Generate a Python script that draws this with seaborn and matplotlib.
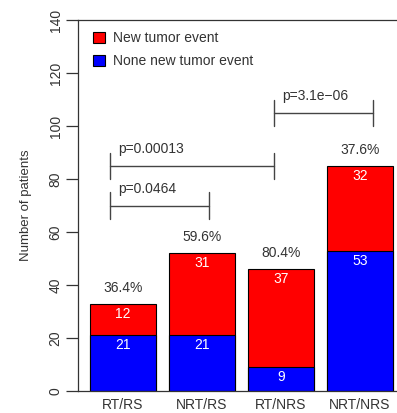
import matplotlib
matplotlib.use("Agg")
import matplotlib.pyplot as plt
from matplotlib.patches import Patch
import seaborn as sns
import pandas as pd

# Patient groups and counts
groups = ["RT/RS", "NRT/RS", "RT/NRS", "NRT/NRS"]
no_event = [21, 21, 9, 53]
new_event = [12, 31, 37, 32]
pct_labels = ["36.4%", "59.6%", "80.4%", "37.6%"]

# Pairwise comparisons: (left x, right x, bracket height, label)
comparisons = [
    (-0.167, 1.083, 70, "p=0.0464"),
    (-0.167, 1.917, 85, "p=0.00013"),
    (1.917, 3.167, 105, "p=3.1e\u221206"),
]
legend_labels = ["New tumor event", "None new tumor event"]

RED = "#ff0000"
BLUE = "#0000ff"
INK = "#333333"
FS = 10

sns.set_style("white")
plt.rcParams["font.family"] = ["Liberation Sans", "DejaVu Sans"]

totals = [a + b for a, b in zip(no_event, new_event)]
df = pd.DataFrame({"group": groups, "total": totals, "none": no_event,
                   "event": new_event})

W, H = 397, 413
fig = plt.figure(figsize=(W / 100, H / 100), dpi=100)
ax = fig.add_axes([78 / W, 1 - 391 / H, (W - 78) / W, (391 - 20) / H])

bar_kw = dict(width=0.835, edgecolor="black", linewidth=0.8,
              saturation=1, errorbar=None, ax=ax)
sns.barplot(data=df, x="group", y="total", color=RED, **bar_kw)
sns.barplot(data=df, x="group", y="none", color=BLUE, **bar_kw)

ax.set_xlim(-0.57, 3.468)
ax.set_ylim(0, 140)
ax.set_yticks(range(0, 141, 20))

for i in range(len(groups)):
    ax.text(i, totals[i] + 6, pct_labels[i], ha="center", va="center",
            fontsize=FS, color=INK)
    ax.text(i, totals[i] - 3.8, str(new_event[i]), ha="center", va="center",
            fontsize=FS, color="white")
    ax.text(i, no_event[i] - 3.8, str(no_event[i]), ha="center", va="center",
            fontsize=FS, color="white")

for x0, x1, y, lab in comparisons:
    ax.plot([x0, x1], [y, y], color="#444444", lw=1.0)
    for xe in (x0, x1):
        ax.plot([xe, xe], [y - 5, y + 5], color="#444444", lw=1.0)
    ax.text(x0 + 0.1, y + 6.3, lab, ha="left", va="center",
            fontsize=FS, color=INK)

handles = [Patch(facecolor=RED, edgecolor="black", linewidth=0.8),
           Patch(facecolor=BLUE, edgecolor="black", linewidth=0.8)]
ax.legend(handles, legend_labels, loc="upper left",
          bbox_to_anchor=(93 / W, 1 - 31.5 / H), bbox_transform=fig.transFigure,
          frameon=False, fontsize=FS, handlelength=0.86, handleheight=0.86,
          handletextpad=0.55, labelspacing=0.62, borderpad=0, borderaxespad=0,
          labelcolor=INK)

ax.spines["right"].set_visible(False)
for side in ("left", "top", "bottom"):
    ax.spines[side].set_color(INK)
    ax.spines[side].set_linewidth(0.9)

ax.tick_params(axis="y", length=8.6, width=0.9, color=INK, pad=2.5,
               labelsize=FS, labelcolor=INK, labelrotation=90, left=True)
for t in ax.get_yticklabels():
    t.set_va("center")
ax.tick_params(axis="x", length=0, pad=5, labelsize=FS, labelcolor=INK)

ax.set_xlabel("")
ax.set_ylabel("Number of patients", fontsize=9.5, color=INK)
ax.yaxis.set_label_coords((26 - 78) / (W - 78), 0.5)
ax.yaxis.label.set_va("center")

fig.savefig("out.png", dpi=100)
